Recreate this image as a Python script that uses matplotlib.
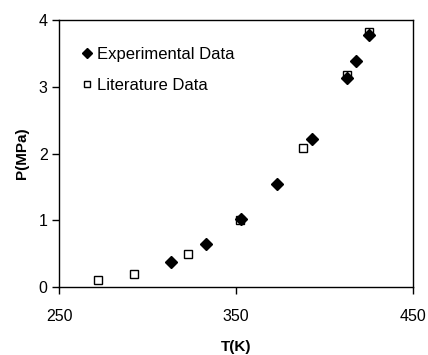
import matplotlib
matplotlib.use('Agg')
import matplotlib.pyplot as plt

# data
exp_T = [313, 333, 353, 373, 393, 413, 418, 425]
exp_P = [0.38, 0.65, 1.02, 1.55, 2.22, 3.13, 3.38, 3.78]
lit_T = [272, 292, 323, 352, 388, 413, 425]
lit_P = [0.11, 0.20, 0.50, 1.00, 2.08, 3.17, 3.82]
x_ticks = [250, 350, 450]
y_ticks = [0, 1, 2, 3, 4]

plt.rcParams['font.family'] = ['Liberation Sans', 'DejaVu Sans']

fig = plt.figure(figsize=(4.28, 3.55), dpi=100)
ax = fig.add_axes([0.1386, 0.1915, 0.8256, 0.7522])

ax.plot(exp_T, exp_P, linestyle='none', marker='D', markersize=5.8,
        color='black', label='Experimental Data')
ax.plot(lit_T, lit_P, linestyle='none', marker='s', markersize=5.2,
        markerfacecolor='none', markeredgecolor='black', markeredgewidth=1,
        label='Literature Data')

ax.set_xlim(250, 450)
ax.set_ylim(0, 4)
ax.set_xticks(x_ticks)
ax.set_yticks(y_ticks)
ax.tick_params(direction='out', length=5, width=1, labelsize=11.5)
ax.tick_params(axis='x', pad=11)
for s in ax.spines.values():
    s.set_linewidth(1)

ax.set_xlabel('T(K)', fontsize=11, fontweight='bold', labelpad=11)
ax.set_ylabel('P(MPa)', fontsize=11, fontweight='bold', labelpad=7)

ax.legend(loc='upper left', frameon=False, fontsize=12, handletextpad=0.15,
          handlelength=0.9, labelspacing=0.95, borderaxespad=0.5,
          markerscale=0.85, bbox_to_anchor=(0.016, 0.955))

fig.savefig('out.png', dpi=100)
